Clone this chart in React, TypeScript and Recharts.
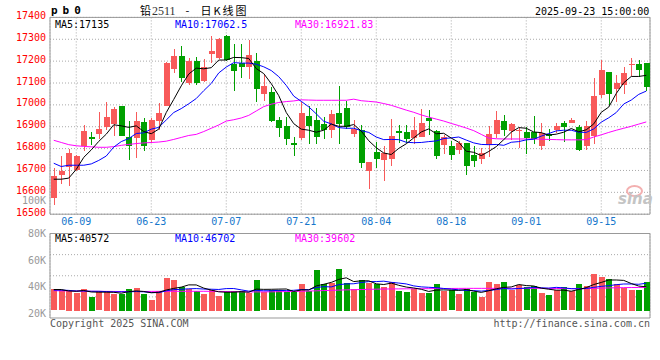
import React from 'react';
import { ComposedChart, Bar, Line, XAxis, YAxis, CartesianGrid, ReferenceArea } from 'recharts';

const dates = [
  '06-04','06-05','06-06','06-09','06-10','06-11','06-12','06-13','06-16','06-17',
  '06-18','06-19','06-20','06-23','06-24','06-25','06-26','06-27','06-30','07-01',
  '07-02','07-03','07-04','07-07','07-08','07-09','07-10','07-11','07-14','07-15',
  '07-16','07-17','07-18','07-21','07-22','07-23','07-24','07-25','07-28','07-29',
  '07-30','07-31','08-01','08-04','08-05','08-06','08-07','08-08','08-11','08-12',
  '08-13','08-14','08-15','08-18','08-19','08-20','08-21','08-22','08-25','08-26',
  '08-27','08-28','08-29','09-01','09-02','09-03','09-04','09-05','09-08','09-09',
  '09-10','09-11','09-12','09-15','09-16','09-17','09-18','09-19','09-22','09-23',
];

const opens = [
  16576,16680,16718,16702,16812,16853,16867,16901,16913,16995,
  16852,16850,16922,16840,16927,16995,17164,17224,17099,17201,
  17110,17234,17213,17315,17186,17190,17175,17201,17050,17059,
  16931,16904,16824,16850,16949,16931,16913,16885,16963,16985,
  16870,16885,16701,16784,16751,16751,16882,16878,16850,16855,
  16942,16881,16817,16812,16791,16827,16771,16754,16817,16866,
  16927,16881,16880,16878,16878,16809,16867,16885,16916,16919,
  16901,16814,16858,17046,17152,17073,17091,17181,17186,17193,
];

const closes = [
  16675,16699,16780,16766,16881,16846,16891,16945,16981,16858,
  16811,16927,16812,16931,16963,17193,17224,17125,17201,17099,
  17175,17248,17300,17205,17155,17170,17228,17073,17087,16927,
  16896,16844,16817,16963,16901,16852,16885,16959,16914,16900,
  16891,16736,16741,16751,16781,16858,16875,16844,16885,16917,
  16928,16767,16855,16771,16824,16722,16744,16780,16867,16931,
  16885,16911,16885,16852,16847,16870,16858,16904,16896,16931,
  16794,16904,17041,17160,17053,17102,17148,17186,17160,17083,
];

const highs = [
  16710,16768,16798,16770,16907,16876,16969,17015,16992,16995,
  16928,16969,16939,16942,17010,17196,17256,17270,17215,17218,
  17211,17315,17305,17318,17279,17279,17297,17239,17137,17083,
  16943,16943,16852,17015,16995,16985,16943,16977,17087,17018,
  16931,16908,16741,16832,16810,16934,16908,16908,16943,16981,
  16977,16885,16862,16835,16835,16827,16812,16801,16904,16973,
  16954,16919,16892,16901,16950,16919,16888,16916,16928,16939,
  16908,16924,17125,17205,17152,17137,17171,17213,17206,17193,
];

const lows = [
  16542,16641,16631,16695,16789,16817,16845,16885,16858,16858,
  16748,16759,16786,16827,16885,16995,17148,17106,17091,17088,
  17106,17193,17208,17198,17064,17122,17119,17015,17018,16924,
  16852,16817,16767,16840,16820,16820,16843,16850,16820,16890,
  16855,16710,16619,16713,16650,16718,16824,16825,16821,16853,
  16862,16754,16776,16748,16776,16680,16718,16730,16763,16850,
  16858,16840,16800,16776,16824,16797,16832,16870,16830,16916,
  16789,16791,16824,17030,17000,17015,17046,17129,17129,17063,
];

const ma5 = [
  16660,16660,16665,16705,16760,16794,16833,16866,16909,16904,
  16897,16904,16878,16868,16889,16965,17025,17087,17141,17168,
  17165,17170,17205,17205,17217,17216,17212,17166,17143,17097,
  17042,16965,16914,16889,16884,16875,16884,16912,16902,16902,
  16910,16880,16836,16804,16780,16773,16801,16822,16849,16876,
  16890,16868,16870,16848,16829,16788,16783,16768,16787,16809,
  16841,16875,16896,16893,16876,16873,16862,16866,16875,16892,
  16877,16886,16913,16966,16990,17052,17101,17130,17130,17135,
];

const ma10 = [
  16733,16718,16724,16724,16724,16730,16746,16766,16807,16832,
  16846,16869,16872,16889,16897,16931,16965,16983,17005,17029,
  17065,17098,17146,17173,17193,17191,17191,17186,17174,17157,
  17129,17089,17040,17016,16991,16959,16925,16913,16896,16893,
  16893,16882,16874,16853,16841,16842,16841,16829,16827,16828,
  16832,16835,16846,16849,16853,16839,16826,16819,16818,16819,
  16815,16829,16832,16840,16843,16857,16869,16881,16884,16884,
  16875,16874,16890,16921,16941,16965,17004,17022,17048,17063,
];

const ma30 = [
  16838,16828,16818,16813,16810,16808,16806,16806,16809,16815,
  16819,16823,16826,16828,16830,16834,16842,16851,16860,16865,
  16878,16893,16908,16926,16932,16940,16952,16972,16992,17003,
  17011,17015,17018,17023,17022,17021,17021,17021,17021,17021,
  17026,17019,17016,17013,17006,16998,16987,16976,16966,16954,
  16944,16935,16926,16915,16905,16894,16882,16865,16848,16845,
  16844,16844,16844,16844,16844,16843,16842,16841,16840,16840,
  16840,16841,16853,16863,16874,16884,16893,16902,16912,16922,
];

// volumes in thousands
const vols = [
  36.4,34.7,34.0,30.1,36.9,23.3,33.0,34.0,29.2,29.2,
  36.9,38.9,29.2,18.2,34.0,55.6,52.5,40.3,36.9,33.8,
  28.7,35.5,25.8,33.2,34.3,33.2,30.4,52.5,31.3,34.7,
  34.7,31.3,31.3,45.4,33.2,69.2,45.4,47.1,70.9,47.1,
  36.9,52.2,47.1,45.4,40.8,48.8,34.0,31.8,37.4,30.1,
  30.1,45.4,34.0,34.7,28.4,37.4,31.8,23.3,48.8,45.4,
  48.8,35.7,43.7,39.8,42.0,30.1,26.7,35.7,39.8,33.0,
  45.4,42.0,62.4,57.3,53.9,45.4,38.6,35.7,35.7,48.8,
];

const vma5 = [
  36.0,36.0,33.5,33.0,34.4,31.8,31.5,31.5,31.3,29.7,
  32.5,33.6,32.7,30.5,31.4,35.2,37.9,40.1,43.9,43.8,
  38.4,35.0,32.1,31.4,31.5,32.4,31.4,36.7,36.3,36.4,
  36.7,36.9,32.7,35.5,35.2,42.1,44.9,48.1,53.2,55.9,
  49.5,50.8,50.8,45.7,44.5,46.9,43.2,40.2,38.6,36.4,
  32.7,35.0,35.4,34.9,34.5,36.0,33.3,31.1,33.9,37.3,
  39.6,40.4,44.5,42.7,42.0,38.3,36.5,34.9,34.9,33.1,
  36.1,39.2,44.5,48.0,52.2,52.2,51.5,46.2,41.9,40.6,
];

const vma10 = [
  35.0,35.0,34.5,33.5,33.5,33.0,33.0,32.5,32.0,32.1,
  32.1,32.6,32.1,30.9,30.6,33.8,35.8,36.4,37.2,37.6,
  36.8,36.5,36.1,37.6,37.7,35.4,33.2,34.4,33.9,34.0,
  34.6,34.1,34.7,35.9,35.8,39.4,40.9,40.4,44.3,45.6,
  45.8,47.9,49.5,49.5,50.2,48.2,47.0,45.5,42.2,40.5,
  39.8,39.1,37.8,36.7,35.5,34.3,34.1,33.3,34.4,35.9,
  37.8,36.8,37.8,38.3,39.7,38.9,38.4,39.7,38.8,37.5,
  37.2,37.8,39.7,41.4,42.6,44.2,45.4,45.4,44.9,46.7,
];

const vma30 = [
  34.0,33.8,33.6,33.4,33.2,33.0,32.9,32.8,32.7,32.6,
  32.6,32.6,32.7,32.8,32.9,33.0,33.0,33.0,33.0,33.0,
  33.0,32.9,32.8,32.6,32.4,32.2,32.0,32.0,32.0,32.1,
  32.3,32.5,32.8,33.1,33.4,33.8,34.2,34.6,35.0,35.4,
  35.7,36.0,36.3,36.6,36.8,37.0,37.1,37.2,37.3,37.4,
  37.5,37.6,37.7,37.8,37.9,38.0,38.0,38.0,38.0,38.0,
  38.0,38.0,38.0,38.0,38.0,38.0,37.9,37.8,37.6,37.5,
  37.5,37.6,38.0,38.4,38.7,39.0,39.2,39.4,39.5,39.6,
];

const dateTicks = ['06-09','06-23','07-07','07-21','08-04','08-18','09-01','09-15'];
const priceTicks = [16500,16600,16700,16800,16900,17000,17100,17200,17300,17400];
const priceDomain = [16500, 17400];
const volLabelTicks = [20, 40, 60, 80];
const volLabelDomain = [16.5, 80];
const volDomain = [-12.41, 131.24];

const RED = '#F85A5A';
const GREEN = '#00A000';
const GRID = '#aaaaaa';
const FRAME = '#999999';
const MONO = '"DejaVu Sans Mono", monospace';

const rows = dates.map((date, i) => ({
  date, open: opens[i], close: closes[i], high: highs[i], low: lows[i],
  ma5: ma5[i], ma10: ma10[i], ma30: ma30[i],
  vol: vols[i], vma5: vma5[i], vma10: vma10[i], vma30: vma30[i],
}));

const Candle = (props: any) => {
  const { x, y, width, height, payload } = props;
  if (x == null || y == null) return null;
  const { open, close, high, low } = payload;
  const color = close >= open ? RED : GREEN;
  const top = Math.min(y, y + height);
  const h = Math.abs(height);
  const py = (v: number) => (high === low ? top : top + ((high - v) / (high - low)) * h);
  const bTop = py(Math.max(open, close));
  const bBot = py(Math.min(open, close));
  const cx = Math.round(x + width / 2 - 0.5);
  const bx = Math.round(x);
  return (
    <g shapeRendering="crispEdges">
      <rect x={cx} y={Math.round(top)} width={1} height={Math.max(1, Math.round(h))} fill={color} />
      <rect x={bx} y={Math.round(bTop)} width={Math.round(width)} height={Math.max(1, Math.round(bBot - bTop))} fill={color} />
    </g>
  );
};

const VolBar = (props: any) => {
  const { x, y, width, height, payload } = props;
  if (x == null || y == null) return null;
  const color = payload.close >= payload.open ? RED : GREEN;
  const top = Math.min(y, y + height);
  return <rect shapeRendering="crispEdges" x={Math.round(x)} y={Math.round(top)} width={Math.round(width)} height={Math.round(Math.abs(height))} fill={color} />;
};

const PriceTick = (props: any) => {
  const { x, y, payload } = props;
  return <text x={x} y={y - 2} dy="0.35em" textAnchor="end" fill="#FF0000" fontSize={10} fontFamily={MONO}>{payload.value}</text>;
};

const DateTick = (props: any) => {
  const { x, y, payload } = props;
  return <text x={x} y={y} dy="0.71em" textAnchor="middle" fill="#1677CC" fontSize={10} fontFamily={MONO}>{payload.value}</text>;
};

const VolTick = (props: any) => {
  const { x, y, payload } = props;
  return <text x={x} y={y} dy="0.35em" textAnchor="end" fill="#999999" fontSize={10} fontFamily={MONO}>{payload.value + 'K'}</text>;
};

const txt = (left: number, top: number, color: string, s: string, extra: any = {}) => (
  <div style={{ position: 'absolute', left, top, color, fontSize: 10, lineHeight: '10px', fontFamily: MONO, whiteSpace: 'pre', ...extra }}>{s}</div>
);

export default function App() {
  return (
    <div style={{ position: 'absolute', left: 0, top: 0, width: 660, height: 360, background: '#fff', overflow: 'hidden' }}>
      <div style={{ position: 'absolute', left: 0, top: 0 }}>
        <ComposedChart width={660} height={236} data={rows} margin={{ top: 17.4, right: 10, bottom: 7.8, left: 0 }}>
          <CartesianGrid stroke={GRID} strokeDasharray="1 2" />
          <XAxis dataKey="date" ticks={dateTicks} interval={0} tickSize={0} tickMargin={4} axisLine={false} tickLine={false} height={14} tick={<DateTick />} />
          <YAxis domain={priceDomain} ticks={priceTicks} interval={0} width={50} tickSize={0} tickMargin={4} axisLine={false} tickLine={false} tick={<PriceTick />} allowDataOverflow />
          <ReferenceArea y1={priceDomain[0]} y2={priceDomain[1]} fill="none" stroke={FRAME} strokeWidth={1} ifOverflow="visible" />
          <Bar dataKey={(d: any) => [d.low, d.high]} barSize={6} shape={(p: any) => <Candle {...p} />} isAnimationActive={false} />
          <Line dataKey="ma30" stroke="#FF00FF" strokeWidth={1} dot={false} activeDot={false} isAnimationActive={false} />
          <Line dataKey="ma10" stroke="#0000FF" strokeWidth={1} dot={false} activeDot={false} isAnimationActive={false} />
          <Line dataKey="ma5" stroke="#000000" strokeWidth={1} dot={false} activeDot={false} isAnimationActive={false} />
        </ComposedChart>
      </div>
      <div style={{ position: 'absolute', left: 0, top: 0 }}>
        <ComposedChart width={660} height={360} data={rows} margin={{ top: 233.5, right: 10, bottom: 42, left: 0 }}>
          <CartesianGrid yAxisId="v" stroke={GRID} strokeDasharray="1 2"
            horizontalCoordinatesGenerator={(args: any) => [0.25, 0.5, 0.75].map((f) => args.offset.top + args.offset.height * f)} />
          <XAxis dataKey="date" ticks={dateTicks} interval={0} height={0} tick={false} axisLine={false} tickLine={false} />
          <YAxis yAxisId="lbl" domain={volLabelDomain} ticks={volLabelTicks} interval={0} width={50} tickSize={0} tickMargin={4} axisLine={false} tickLine={false} tick={<VolTick />} allowDataOverflow />
          <YAxis yAxisId="v" hide domain={volDomain} allowDataOverflow />
          <ReferenceArea yAxisId="v" y1={volDomain[0]} y2={volDomain[1]} fill="none" stroke={FRAME} strokeWidth={1} ifOverflow="visible" />
          <Bar yAxisId="v" dataKey="vol" barSize={6} shape={(p: any) => <VolBar {...p} />} isAnimationActive={false} />
          <Line yAxisId="v" dataKey="vma30" stroke="#FF00FF" strokeWidth={1} dot={false} activeDot={false} isAnimationActive={false} />
          <Line yAxisId="v" dataKey="vma10" stroke="#0000FF" strokeWidth={1} dot={false} activeDot={false} isAnimationActive={false} />
          <Line yAxisId="v" dataKey="vma5" stroke="#000000" strokeWidth={1} dot={false} activeDot={false} isAnimationActive={false} />
        </ComposedChart>
      </div>

      {/* header */}
      <div style={{ position: 'absolute', left: 51, top: 5, fontSize: 11, lineHeight: '12px', fontWeight: 'bold', fontFamily: MONO, letterSpacing: 5, color: '#000' }}>pb0</div>
      <div style={{ position: 'absolute', left: 140, top: 4, fontSize: 11, lineHeight: '13px', fontFamily: '"Noto Sans CJK SC", sans-serif', color: '#000', whiteSpace: 'pre' }}>
        铅<span style={{ fontFamily: '"Liberation Serif", serif', fontSize: 12, color: '#333', marginLeft: 1 }}>2511</span>
        <span style={{ marginLeft: 10 }}>-</span>
        <span style={{ marginLeft: 11, letterSpacing: 2 }}>日K线图</span>
      </div>
      {txt(535, 7, '#000', '2025-09-23 15:00:00')}

      {/* price legend */}
      {txt(55, 19.5, '#000', 'MA5:17135')}
      {txt(175, 19.5, '#0000FF', 'MA10:17062.5')}
      {txt(295, 19.5, '#FF00FF', 'MA30:16921.83')}

      {/* volume legend */}
      {txt(55, 234, '#000', 'MA5:40572')}
      {txt(175, 234, '#0000FF', 'MA10:46702')}
      {txt(295, 234, '#FF00FF', 'MA30:39602')}

      {/* stray volume label */}
      <div style={{ position: 'absolute', left: 0, width: 46, top: 196, textAlign: 'right', color: '#999', fontSize: 10, lineHeight: '10px', fontFamily: MONO }}>100K</div>

      {/* watermark */}
      <div style={{ position: 'absolute', left: 626, top: 185, width: 13, height: 8, borderRadius: '50%', border: '2px solid #f3b0b0' }} />
      <div style={{ position: 'absolute', left: 618, top: 192, fontSize: 15, lineHeight: '15px', fontStyle: 'italic', fontWeight: 'bold', fontFamily: '"DejaVu Sans", sans-serif', color: '#c4c4c4' }}>sina</div>

      {/* footer */}
      {txt(50, 319, '#555', 'Copyright 2025 SINA.COM')}
      <div style={{ position: 'absolute', right: 10, top: 319, color: '#555', fontSize: 10, lineHeight: '10px', fontFamily: MONO, whiteSpace: 'pre' }}>http://finance.sina.com.cn</div>
    </div>
  );
}
